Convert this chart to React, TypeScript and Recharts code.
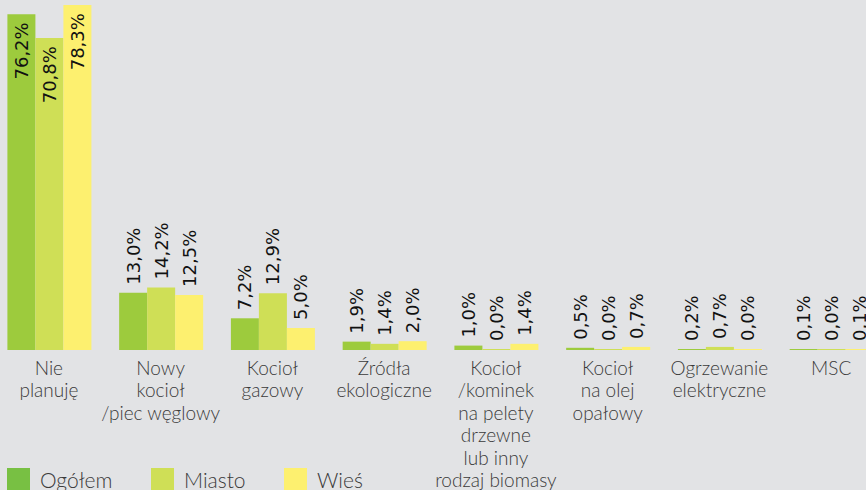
import { BarChart, Bar, XAxis, YAxis, LabelList } from 'recharts';

const categories = [
  'Nie\nplanuję',
  'Nowy\nkocioł\n/piec węglowy',
  'Kocioł\ngazowy',
  'Źródła\nekologiczne',
  'Kocioł\n/kominek\nna pelety\ndrzewne\nlub inny\nrodzaj biomasy',
  'Kocioł\nna olej\nopałowy',
  'Ogrzewanie\nelektryczne',
  'MSC',
];
const ogolem = [76.2, 13.0, 7.2, 1.9, 1.0, 0.5, 0.2, 0.1];
const miasto = [70.8, 14.2, 12.9, 1.4, 0.0, 0.0, 0.7, 0.0];
const wies = [78.3, 12.5, 5.0, 2.0, 1.4, 0.7, 0.0, 0.1];

const SERIES = [
  { key: 'ogolem', name: 'Ogółem', color: '#9dcb3d', legend: '#78c043' },
  { key: 'miasto', name: 'Miasto', color: '#cfdf56', legend: '#cfdf56' },
  { key: 'wies', name: 'Wieś', color: '#fdf06f', legend: '#fdf06f' },
];

const data = categories.map((c, i) => ({
  name: c,
  ogolem: ogolem[i],
  miasto: miasto[i],
  wies: wies[i],
}));

const fmt = (v: number) => v.toFixed(1).replace('.', ',') + '%';

function ValueLabel(props: any) {
  const { x, y, width, value } = props;
  const cx = x + width / 2;
  const inside = value > 50;
  const ay = inside ? y + 8 : y - 8;
  return (
    <text
      x={cx}
      y={ay}
      transform={`rotate(-90, ${cx}, ${ay})`}
      textAnchor={inside ? 'end' : 'start'}
      dominantBaseline="central"
      fontFamily="'DejaVu Sans', sans-serif"
      fontSize={18}
      fill="#111"
    >
      {fmt(value)}
    </text>
  );
}

function CategoryTick(props: any) {
  const { x, y, payload } = props;
  const lines = String(payload.value).split('\n');
  return (
    <text
      x={x}
      y={y}
      textAnchor="middle"
      fontFamily="Lato, sans-serif"
      fontWeight={300}
      fontSize={19}
      fill="#3a3a3a"
    >
      {lines.map((l, i) => (
        <tspan key={i} x={x} y={y + 25 + i * 22.4}>
          {l}
        </tspan>
      ))}
    </text>
  );
}

export default function App() {
  return (
    <div
      style={{
        position: 'absolute',
        left: 0,
        top: 0,
        width: 866,
        height: 490,
        overflow: 'hidden',
        background: '#e2e3e5',
      }}
    >
      <div style={{ position: 'absolute', left: -7, top: 0 }}>
        <BarChart
          width={894}
          height={490}
          data={data}
          margin={{ top: 2, right: 0, bottom: 0, left: 0 }}
          barCategoryGap={14.4}
          barGap={0}
        >
          <XAxis
            dataKey="name"
            height={140}
            axisLine={false}
            tickLine={false}
            tickSize={0}
            tickMargin={0}
            interval={0}
            tick={<CategoryTick />}
          />
          <YAxis hide domain={[0, 79]} />
          {SERIES.map((s) => (
            <Bar
              key={s.key}
              dataKey={s.key}
              name={s.name}
              fill={s.color}
              minPointSize={1}
              isAnimationActive={false}
            >
              <LabelList dataKey={s.key} content={<ValueLabel />} />
            </Bar>
          ))}
        </BarChart>
      </div>
      <div style={{ position: 'absolute', left: 0, top: 468, width: 866, height: 22 }}>
        {SERIES.map((s, i) => (
          <div
            key={s.key}
            style={{
              position: 'absolute',
              left: [7, 151, 284][i],
              top: 0,
              display: 'flex',
              alignItems: 'center',
              fontFamily: 'Lato, sans-serif',
              fontWeight: 300,
              fontSize: 21,
              color: '#3a3a3a',
              whiteSpace: 'nowrap',
            }}
          >
            <span style={{ display: 'inline-block', width: 23, height: 23, background: s.legend, marginRight: 10 }} />
            <span style={{ lineHeight: '23px' }}>{s.name}</span>
          </div>
        ))}
      </div>
    </div>
  );
}
